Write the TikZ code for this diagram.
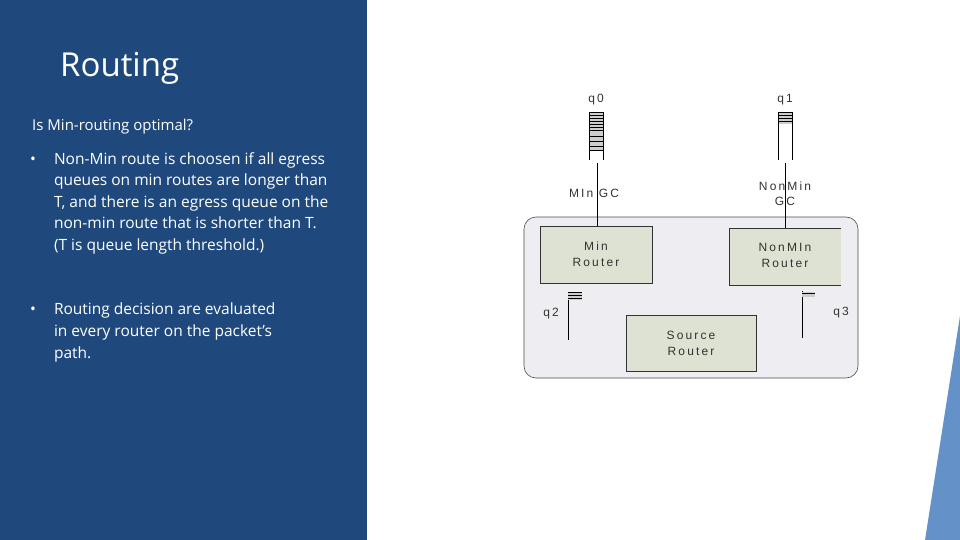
\documentclass[tikz,border=0pt]{standalone}
\usepackage{fontspec}
\setmainfont{Open Sans}
\newfontfamily\diag[LetterSpace=18]{Liberation Sans}
\definecolor{panel}{RGB}{31,73,125}
\definecolor{tri}{RGB}{100,145,200}
\definecolor{boxg}{RGB}{222,226,210}
\definecolor{bgg}{RGB}{238,238,242}
\definecolor{qg}{RGB}{205,205,205}
\begin{document}
\begin{tikzpicture}[x=1pt,y=-1pt,
  lbl/.style={font=\diag\fontsize{12}{13}\selectfont,text=black!80,align=center,inner sep=0},
  rbox/.style={draw=black!80,fill=boxg,line width=0.6pt},
  ln/.style={draw=black,line width=0.6pt},
  body/.style={anchor=north west,text=white,font=\fontsize{15.5}{21.6}\selectfont,inner sep=0}]
\useasboundingbox (0,0) rectangle (960,540);
\fill[panel] (0,0) rectangle (367,540);
\fill[tri] (960,316) -- (925,540) -- (960,540) -- cycle;
\node[anchor=west,text=white,font=\fontsize{33}{38}\selectfont,inner sep=0] (title) at (60,68) {Routing};
\node[anchor=west,text=white,font=\fontsize{15}{18}\selectfont,inner sep=0] (q) at (32,127) {Is Min-routing optimal?};
\node[body] (b1) at (30,152)
 {•\hspace{18pt}\parbox[t]{315pt}{Non-Min route is choosen if all egress\\queues on min routes are longer than\\T, and there is an egress queue on the\\non-min route that is shorter than T.\\(T is queue length threshold.)}};
\node[body] (b2) at (30,303)
 {•\hspace{18pt}\parbox[t]{300pt}{Routing decision are evaluated\\in every router on the packet's\\path.}};
% diagram
\draw[fill=bgg,draw=black!70,line width=0.6pt,rounded corners=12] (524,217) rectangle (858,378);
\draw[rbox] (540,226) rectangle (652,283);
\node[lbl] (minr) at (596,254) {Min\\[3pt]Router};
\fill[boxg] (729,228) rectangle (841,285);
\draw[black!80,line width=0.6pt] (841,228) -- (729,228) -- (729,285) -- (841,285);
\node[lbl] (nmr) at (785,255) {NonMIn\\[3pt]Router};
\draw[rbox] (626,315) rectangle (756,371);
\node[lbl] (sr) at (691,343) {Source\\[3pt]Router};
% q0
\fill[qg] (589,112) rectangle (603,150);
\foreach \y in {112,115,118,121,124,127,130,136,141,146,150} \draw[black,line width=0.4pt] (589,\y) -- (603,\y);
\draw[ln] (589,112) -- (589,160) (603,112) -- (603,160);
\node[lbl] (q0) at (596,100) {q0};
\coordinate (q0b) at (597,163);
\draw[ln] (q0b) -- (597,226);
\node[lbl] (mgc) at (594,193) {MIn GC};
% q1
\fill[qg] (778,112) rectangle (792,124);
\foreach \y in {112,115,118,121} \draw[black,line width=0.4pt] (778,\y) -- (792,\y);
\draw[ln] (778,112) -- (778,160) (792,112) -- (792,160);
\node[lbl] (q1) at (785,100) {q1};
\coordinate (q1b) at (785,163);
\coordinate (q1e) at (785,228);
\draw[ln] (q1b) -- (q1e);
\node[lbl] (nmgc) at (785,194) {NonMin\\[2pt]GC};
% q2
\coordinate (q2t) at (568,292);
\coordinate (q2b) at (568,340);
\draw[ln] (q2t) -- (q2b);
\fill[qg] (568,292) rectangle (582,300);
\foreach \y in {292,295,298} \draw[black,line width=0.4pt] (568,\y) -- (582,\y);
\node[lbl] (q2) at (551,314) {q2};
% q3
\coordinate (q3t) at (802,291);
\coordinate (q3b) at (802,338);
\draw[ln] (q3t) -- (q3b);
\fill[qg] (802,292) rectangle (815,297);
\draw[black,line width=0.4pt] (802,293) -- (815,293);
\node[lbl] (q3) at (841,313) {q3};
\end{tikzpicture}
\end{document}
